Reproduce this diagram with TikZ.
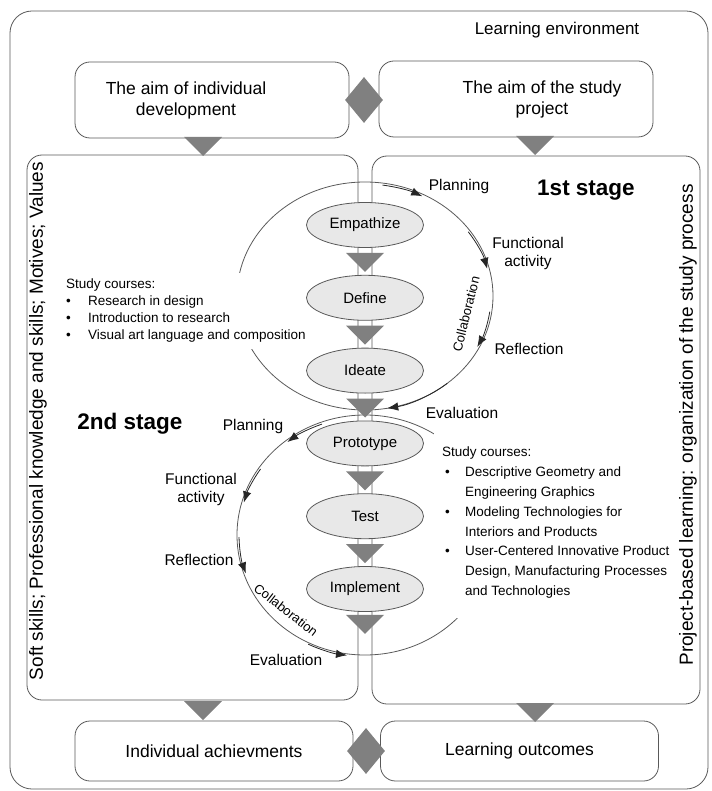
\documentclass[tikz,border=0pt]{standalone}
\usepackage{fontspec}
\setmainfont{Liberation Sans}
\usetikzlibrary{arrows.meta,positioning,calc,shapes.geometric}

% grey wedge pointing down, tip at #1
\newcommand{\downtri}[1]{\fill[black!50] (#1) -- ++(-19,-19) -- ++(38,0) -- cycle;}
% arrow running along a cycle: centre, x radius, y radius, from, to
\newcommand{\cycarrow}[5]{\draw[arr] ($(#1)+(#4:#2 and #3)$) arc[start angle=#4, end angle=#5, x radius=#2, y radius=#3];}
\newcommand{\itm}{\makebox[22pt][l]{\textbullet}}

\begin{document}
\begin{tikzpicture}[
  x=1pt, y=-1pt,
  line/.style={draw=black!65, line width=0.8pt},
  frame/.style={line, rounded corners=15pt, inner sep=0pt},
  aim/.style={frame, minimum width=274pt, minimum height=76pt},
  outcome/.style={frame, minimum width=278pt, minimum height=60pt, font=\fontsize{17.5}{21}\selectfont},
  phase/.style={ellipse, draw=black!65, line width=0.8pt, fill=black!9, minimum width=117pt, minimum height=45pt, inner sep=0pt, font=\fontsize{15}{18}\selectfont},
  txt/.style={font=\fontsize{17.5}{21}\selectfont, align=center, inner sep=0pt},
  cyc/.style={font=\fontsize{15.5}{18}\selectfont, align=center, inner sep=0pt},
  collab/.style={font=\fontsize{13}{15}\selectfont, inner sep=0pt},
  stage/.style={font=\bfseries\fontsize{22.5}{26}\selectfont, inner sep=0pt},
  side/.style={font=\fontsize{19}{22}\selectfont, rotate=90, inner sep=0pt},
  courses/.style={fill=white, font=\fontsize{13.5}{17}\selectfont, align=left, anchor=north west},
  arr/.style={draw=black!85, line width=0.8pt, -{Latex[length=11pt,width=8.5pt]}},
  linkdia/.style={diamond, fill=black!50, minimum width=38pt, minimum height=46pt, inner sep=0pt}
]
\useasboundingbox (0,0) rectangle (711,791);

% learning environment
\node[frame, rounded corners=22pt, minimum width=698pt, minimum height=778pt] (env) at (359,400) {};
\node[txt, font=\fontsize{17}{20}\selectfont] (envlbl) at (557,30) {Learning environment};

% aims
\node[aim] (aimdev) at (212,100) {};
\node[aim] (aimproj) at (516,99) {};
\node[txt] (aimdevtxt) at ([xshift=-26pt]aimdev.center) {The aim of individual\\development};
\node[txt] (aimprojtxt) at ([xshift=26pt]aimproj.center) {The aim of the study\\project};
\node[linkdia] (topjoin) at (364,100) {};

% two stages
\node[frame, minimum width=331pt, minimum height=545pt] (personal) at (192.5,427.5) {};
\node[frame, minimum width=328pt, minimum height=548pt] (project) at (536,430) {};

% results
\node[outcome] (indach) at (214,751) {Individual achievments};
\node[outcome] (outc) at (519.5,751) {Learning outcomes};
\node[linkdia] (botjoin) at (366,751) {};

\downtri{203,156}
\downtri{535,155}
\downtri{203,720}
\downtri{535,722}

% cycles
\coordinate (c1) at (365,296);
\coordinate (c2) at (365,535);
\draw[line] (c1) ellipse [x radius=128pt, y radius=114pt];
\draw[line] (c2) ellipse [x radius=128pt, y radius=120pt];

\node[courses, inner sep=6pt] (crs1) at (60,273) {Study courses:\\
\itm Research in design\\
\itm Introduction to research\\
\itm Visual art language and composition};
\node[courses, inner xsep=8pt, inner ysep=20pt, font=\fontsize{13.5}{19.8}\selectfont] (crs2) at (434,427) {Study courses:\\
\makebox[23pt][l]{\hspace{3pt}\textbullet}Descriptive Geometry and\\
\hspace*{23pt}Engineering Graphics\\
\makebox[23pt][l]{\hspace{3pt}\textbullet}Modeling Technologies for\\
\hspace*{23pt}Interiors and Products\\
\makebox[23pt][l]{\hspace{3pt}\textbullet}User-Centered Innovative Product\\
\hspace*{23pt}Design, Manufacturing Processes\\
\hspace*{23pt}and Technologies};

\cycarrow{c1}{126pt}{112pt}{82}{63}
\cycarrow{c1}{126pt}{112pt}{35}{14}
\cycarrow{c1}{126pt}{112pt}{-8}{-27}
\cycarrow{c1}{128pt}{114pt}{-50}{-80}
\cycarrow{c2}{126pt}{118pt}{110}{128}
\cycarrow{c2}{126pt}{118pt}{146}{164}
\cycarrow{c2}{126pt}{118pt}{181}{199}
\cycarrow{c2}{129.5pt}{121.5pt}{244}{262}

% design thinking phases
\node[phase] (emp) at (365,225) {Empathize};
\node[phase, below=27pt of emp] (def) {Define};
\node[phase, below=27pt of def] (ide) {Ideate};
\node[phase, below=27pt of ide] (proto) {Prototype};
\node[phase, below=27pt of proto] (test) {Test};
\node[phase, below=27pt of test] (impl) {Implement};

\downtri{$(def.north)+(0,-3)$}
\downtri{$(ide.north)+(0,-3)$}
\downtri{$(proto.north)+(0,-3)$}
\downtri{$(test.north)+(0,-3)$}
\downtri{$(impl.north)+(0,-3)$}
\downtri{$(impl.south)+(0,22)$}

% cycle labels
\node[cyc] (plan1) at (459,186) {Planning};
\node[cyc] (func1) at (528,253) {Functional\\activity};
\node[cyc] (refl1) at (529,349) {Reflection};
\node[cyc] (eval1) at (462,413) {Evaluation};
\node[collab, rotate=76] (coll1) at (466,314) {Collaboration};
\node[cyc] (plan2) at (253,426) {Planning};
\node[cyc] (func2) at (201,489) {Functional\\activity};
\node[cyc] (refl2) at (199,560) {Reflection};
\node[cyc] (eval2) at (286,660) {Evaluation};
\node[collab, rotate=-38] (coll2) at (286,610) {Collaboration};

\node[stage] (st1) at (586,190) {1st stage};
\node[stage] (st2) at (130,424) {2nd stage};

\node[side] (softlbl) at (38,421) {Soft skills; Professional knowledge and skills; Motives; Values};
\node[side] (pbllbl) at (688,425) {Project-based learning: organization of the study process};
\end{tikzpicture}
\end{document}
